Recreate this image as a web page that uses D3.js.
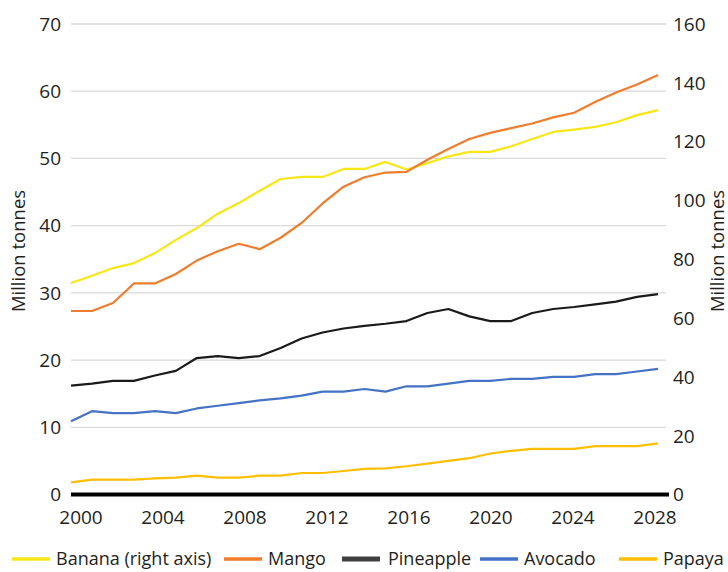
<!DOCTYPE html>
<html>
<head>
  <meta charset="utf-8">
  <title>Tropical fruit production</title>
  <script src="https://d3js.org/d3.v7.min.js"></script>
  <style>
    body { margin: 0; background: #fff; }
    text { font-family: "Open Sans", "Noto Sans", sans-serif; fill: #231f20; }
  </style>
</head>
<body>
  <svg id="chart"></svg>

  <script>
    const svg_width = 728;
    const svg_height = 572;

    // years 2000..2028
    var years = d3.range(2000, 2029);

    // million tonnes
    var banana = [71.9, 74.4, 77.0, 78.7, 82.1, 86.6, 90.6, 95.5, 99.1, 103.3, 107.3, 108.0, 108.0, 110.7, 110.7,
      113.1, 110.5, 112.7, 115.0, 116.5, 116.5, 118.4, 120.9, 123.3, 124.1, 125.0, 126.6, 129.0, 130.7];
    var mango = [27.3, 27.3, 28.5, 31.4, 31.4, 32.8, 34.8, 36.2, 37.3, 36.5, 38.2, 40.4, 43.3, 45.8, 47.2,
      47.9, 48.0, 49.8, 51.4, 52.9, 53.8, 54.5, 55.2, 56.1, 56.8, 58.4, 59.8, 61.0, 62.4];
    var pineapple = [16.2, 16.5, 16.9, 16.9, 17.7, 18.4, 20.3, 20.6, 20.3, 20.6, 21.8, 23.2, 24.1, 24.7, 25.1,
      25.4, 25.8, 27.0, 27.6, 26.5, 25.8, 25.8, 27.0, 27.6, 27.9, 28.3, 28.7, 29.4, 29.8];
    var avocado = [10.9, 12.4, 12.1, 12.1, 12.4, 12.1, 12.8, 13.2, 13.6, 14.0, 14.3, 14.7, 15.3, 15.3, 15.7,
      15.3, 16.1, 16.1, 16.5, 16.9, 16.9, 17.2, 17.2, 17.5, 17.5, 17.9, 17.9, 18.3, 18.7];
    var papaya = [1.8, 2.2, 2.2, 2.2, 2.4, 2.5, 2.8, 2.5, 2.5, 2.8, 2.8, 3.2, 3.2, 3.5, 3.8,
      3.9, 4.2, 4.6, 5.0, 5.4, 6.1, 6.5, 6.8, 6.8, 6.8, 7.2, 7.2, 7.2, 7.6];

    var xTicks = [2000, 2004, 2008, 2012, 2016, 2020, 2024, 2028];
    var leftTicks = [0, 10, 20, 30, 40, 50, 60, 70];
    var rightTicks = [0, 20, 40, 60, 80, 100, 120, 140, 160];

    var series = [
      { name: "Banana (right axis)", values: banana, color: "#f7e713", axis: "right" },
      { name: "Mango", values: mango, color: "#ef7d2c", axis: "left" },
      { name: "Pineapple", values: pineapple, color: "#1a1a1a", axis: "left" },
      { name: "Avocado", values: avocado, color: "#4472c4", axis: "left" },
      { name: "Papaya", values: papaya, color: "#ffbf00", axis: "left" }
    ];
    // legend draws series in this order
    var legendX = [12, 224, 342, 480, 619];

    var plot = { left: 71, right: 666, top: 24, bottom: 494.5 };

    var x = d3.scaleLinear()
      .domain([2000, 2028])
      .range([plot.left, 658]);

    // year labels sit a little off the data positions in the original
    var xLabel = d3.scaleLinear()
      .domain([2000, 2028])
      .range([81, 655]);

    var yLeft = d3.scaleLinear()
      .domain([0, 70])
      .range([plot.bottom, plot.top]);

    var yRight = d3.scaleLinear()
      .domain([0, 160])
      .range([plot.bottom, plot.top]);

    var svg = d3.select("#chart")
      .attr("width", svg_width)
      .attr("height", svg_height);

    // gridlines
    svg.append("g")
      .selectAll("line")
      .data(leftTicks.filter(function(d) { return d > 0; }))
      .enter().append("line")
      .attr("x1", plot.left)
      .attr("x2", plot.right)
      .attr("y1", function(d) { return yLeft(d); })
      .attr("y2", function(d) { return yLeft(d); })
      .attr("stroke", "#d9d9d9")
      .attr("stroke-width", 1.3);

    // left axis labels
    svg.append("g")
      .selectAll("text")
      .data(leftTicks)
      .enter().append("text")
      .attr("x", 61)
      .attr("y", function(d) { return yLeft(d); })
      .attr("dy", "0.36em")
      .attr("text-anchor", "end")
      .style("font-size", "19px")
      .text(function(d) { return d; });

    // right axis labels
    svg.append("g")
      .selectAll("text")
      .data(rightTicks)
      .enter().append("text")
      .attr("x", 673)
      .attr("y", function(d) { return yRight(d); })
      .attr("dy", "0.36em")
      .attr("text-anchor", "start")
      .style("font-size", "19px")
      .text(function(d) { return d; });

    // year labels
    svg.append("g")
      .selectAll("text")
      .data(xTicks)
      .enter().append("text")
      .attr("x", function(d) { return xLabel(d); })
      .attr("y", 524)
      .attr("text-anchor", "middle")
      .style("font-size", "19px")
      .text(function(d) { return d; });

    // axis titles
    svg.append("text")
      .attr("transform", "translate(25,251) rotate(-90)")
      .attr("text-anchor", "middle")
      .style("font-size", "18.5px")
      .text("Million tonnes");

    svg.append("text")
      .attr("transform", "translate(724,251) rotate(-90)")
      .attr("text-anchor", "middle")
      .style("font-size", "18.5px")
      .text("Million tonnes");

    // lines
    series.forEach(function(s) {
      var yScale = s.axis === "right" ? yRight : yLeft;
      var line = d3.line()
        .x(function(d, i) { return x(years[i]); })
        .y(function(d) { return yScale(d); });

      svg.append("path")
        .datum(s.values)
        .attr("fill", "none")
        .attr("stroke", s.color)
        .attr("stroke-width", 2.2)
        .attr("stroke-linejoin", "round")
        .attr("d", line);
    });

    // zero line
    svg.append("line")
      .attr("x1", plot.left)
      .attr("x2", 669)
      .attr("y1", yLeft(0))
      .attr("y2", yLeft(0))
      .attr("stroke", "#000")
      .attr("stroke-width", 4);

    // legend
    var legend = svg.selectAll(".legend")
      .data(series)
      .enter().append("g")
      .attr("class", "legend")
      .attr("transform", function(d, i) {
        return "translate(" + legendX[i] + ",559)";
      });

    legend.append("line")
      .attr("x1", 0)
      .attr("x2", 38)
      .attr("stroke", function(d) { return d.name === "Pineapple" ? "#404040" : d.color; })
      .attr("stroke-width", function(d) { return d.name === "Pineapple" ? 5 : 3.5; });

    legend.append("text")
      .attr("x", function(d) { return d.name === "Pineapple" ? 46 : 44; })
      .attr("dy", "0.36em")
      .style("font-size", "18px")
      .text(function(d) { return d.name; });
  </script>
</body>
</html>
